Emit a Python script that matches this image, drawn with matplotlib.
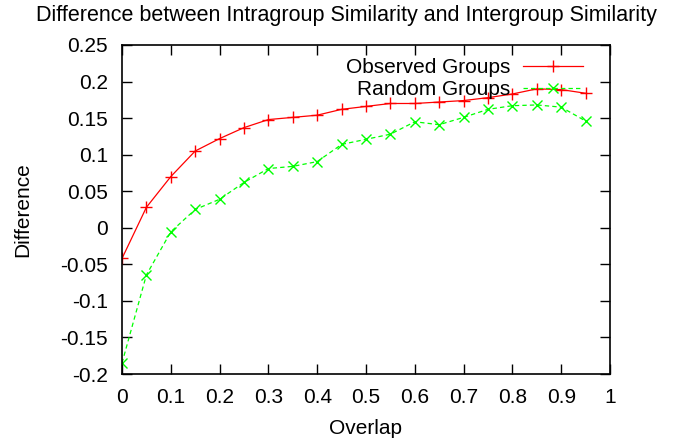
import matplotlib
matplotlib.use('Agg')
import matplotlib.pyplot as plt

plt.rcParams['font.family'] = ['Liberation Sans', 'DejaVu Sans']

overlap = [0.0, 0.05, 0.1, 0.15, 0.2, 0.25, 0.3, 0.35, 0.4, 0.45,
           0.5, 0.55, 0.6, 0.65, 0.7, 0.75, 0.8, 0.85, 0.9, 0.95]
observed = [-0.042, 0.028, 0.070, 0.105, 0.122, 0.137, 0.148, 0.151, 0.154, 0.162,
            0.166, 0.170, 0.170, 0.172, 0.174, 0.178, 0.183, 0.190, 0.189, 0.184]
random_grp = [-0.185, -0.0645, -0.0055, 0.025, 0.039, 0.062, 0.081, 0.084, 0.0905, 0.114,
              0.121, 0.128, 0.145, 0.141, 0.151, 0.162, 0.167, 0.168, 0.165, 0.146]
xticks = [0, 0.1, 0.2, 0.3, 0.4, 0.5, 0.6, 0.7, 0.8, 0.9, 1]
yticks = [-0.2, -0.15, -0.1, -0.05, 0, 0.05, 0.1, 0.15, 0.2, 0.25]

fs = 15
fig = plt.figure(figsize=(6.75, 4.4), dpi=100)
ax = fig.add_axes([122 / 675, 1 - 374 / 440, 488 / 675, 329 / 440])

ax.plot(overlap, observed, color='#ff0000', lw=0.9, marker='+', ms=8, mew=1.0,
        label='Observed Groups')
ax.plot(overlap, random_grp, color='#00ff00', lw=0.9, ls=(0, (3.5, 2.5)), marker='x', ms=7,
        mew=1.0, label='Random Groups')

ax.set_xlim(0, 1)
ax.set_ylim(-0.2, 0.25)
ax.set_xticks(xticks)
ax.set_xticklabels(['%g' % t for t in xticks])
ax.set_yticks(yticks)
ax.set_yticklabels(['%g' % t for t in yticks])
ax.tick_params(direction='in', length=7, width=1.0, top=True, right=True,
               labelsize=fs, pad=10)
for s in ax.spines.values():
    s.set_linewidth(1.2)

ax.set_xlabel('Overlap', fontsize=fs, labelpad=9)
ax.set_ylabel('Difference', fontsize=fs, labelpad=20)
fig.text(346 / 675, 1 - 15 / 440, 'Difference between Intragroup Similarity and Intergroup Similarity',
         ha='center', va='center', fontsize=15.5)

ax.legend(loc='upper right', bbox_to_anchor=(583 / 675, 1 - 58 / 440),
          bbox_transform=fig.transFigure, frameon=False, markerfirst=False,
          fontsize=fs, handlelength=2.9, handletextpad=0.6, labelspacing=0.15,
          borderpad=0, borderaxespad=0)

fig.savefig('out.png')
